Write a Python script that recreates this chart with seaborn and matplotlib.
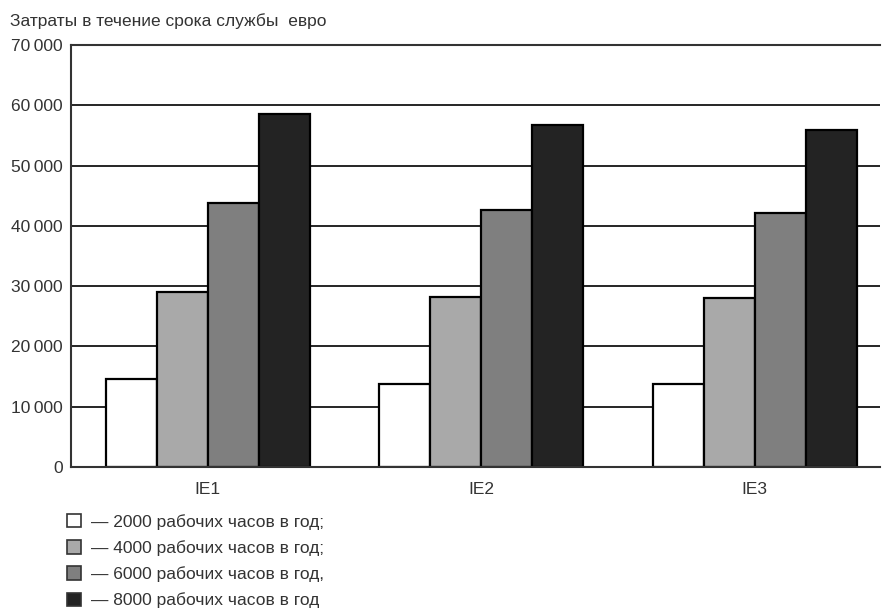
import pandas as pd
import matplotlib
matplotlib.use("Agg")
import matplotlib.pyplot as plt
import matplotlib.ticker as mticker
from matplotlib.patches import Patch
import seaborn as sns

# data
categories = ["IE1", "IE2", "IE3"]
hours = ["2000", "4000", "6000", "8000"]
costs_2000 = [14600, 13800, 13800]
costs_4000 = [29000, 28200, 28000]
costs_6000 = [43800, 42600, 42100]
costs_8000 = [58500, 56700, 55900]
legend_labels = ["— 2000 рабочих часов в год;",
                 "— 4000 рабочих часов в год;",
                 "— 6000 рабочих часов в год,",
                 "— 8000 рабочих часов в год"]
colors = ["#ffffff", "#a9a9a9", "#7f7f7f", "#232323"]

rows = []
for h, vals in zip(hours, [costs_2000, costs_4000, costs_6000, costs_8000]):
    for c, v in zip(categories, vals):
        rows.append({"cat": c, "hours": h, "cost": v})
df = pd.DataFrame(rows)

sns.set_style("white")
plt.rcParams["font.family"] = ["Liberation Sans", "DejaVu Sans"]

fig = plt.figure(figsize=(8.86, 6.12), dpi=100)
ax = fig.add_axes([0.080, 0.237, 0.913, 0.6895])

sns.barplot(data=df, x="cat", y="cost", hue="hours", palette=colors,
            width=0.746, gap=0, edgecolor="black", linewidth=1.6,
            saturation=1, ax=ax, legend=False)

ax.set_ylim(0, 70000)
ax.set_xlim(-0.5, 2.458)
ax.set_yticks(range(0, 70001, 10000))
ax.yaxis.set_major_formatter(mticker.FuncFormatter(
    lambda v, p: "0" if v == 0 else f"{int(v) // 1000}\u2009{int(v) % 1000:03d}"))
ax.yaxis.grid(True, color="black", linewidth=1.2)
ax.set_axisbelow(True)
ax.set_xlabel("")
ax.set_ylabel("")
ax.spines["right"].set_visible(False)
for s in ["left", "top", "bottom"]:
    ax.spines[s].set_color("#333333")
    ax.spines[s].set_linewidth(1.5)
ax.tick_params(axis="both", labelsize=12.5, colors="#333333", length=0)
ax.tick_params(axis="x", pad=11)
ax.tick_params(axis="y", pad=6)

fig.text(0.011, 0.966, "Затраты в течение срока службы  евро",
         fontsize=12.5, color="#333333", va="center")

handles = [Patch(facecolor=c, edgecolor="#333333", linewidth=1.2) for c in colors]
fig.legend(handles, legend_labels, loc="upper left", bbox_to_anchor=(0.058, 0.186),
           frameon=False, fontsize=12.5, handlelength=0.8, handleheight=0.8,
           handletextpad=0.6, labelspacing=0.6, labelcolor="#333333")

fig.savefig("out.png", dpi=100)
